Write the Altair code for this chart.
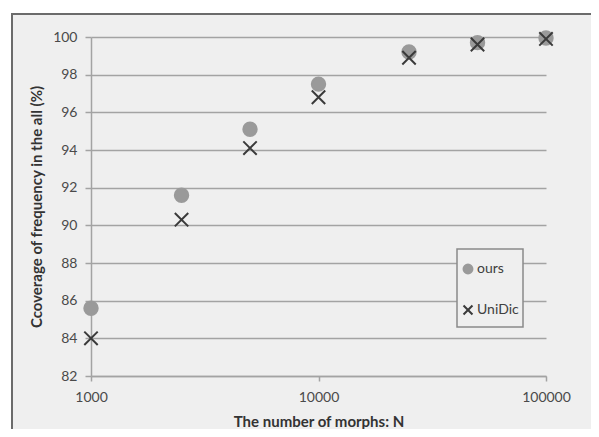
import altair as alt
import pandas as pd

N = [1000, 2500, 5000, 10000, 25000, 50000, 100000]
ours = [85.6, 91.6, 95.1, 97.5, 99.2, 99.7, 99.95]
unidic = [84.0, 90.3, 94.1, 96.8, 98.9, 99.6, 99.9]
series = ["ours", "UniDic"]
x_ticks = [1000, 10000, 100000]
y_ticks = [82, 84, 86, 88, 90, 92, 94, 96, 98, 100]

df = pd.DataFrame({
    "N": N + N,
    "cov": ours + unidic,
    "series": [series[0]] * len(N) + [series[1]] * len(N),
})

cross = "M-1,-1L1,1M-1,1L1,-1"
FONT = "Lato"

one = pd.DataFrame({"f": [0]})
white_strip = alt.Chart(one).mark_rect(fill=None, stroke="white", strokeWidth=12).encode(
    x=alt.value(-86), x2=alt.value(560), y=alt.value(-30), y2=alt.value(460))
border = alt.Chart(one).mark_rect(fill=None, stroke="#6b6b6b", strokeWidth=2).encode(
    x=alt.value(-79), x2=alt.value(540), y=alt.value(-23), y2=alt.value(440))
legend_box = alt.Chart(one).mark_rect(fill="#efefef", stroke="#8a8a8a", strokeWidth=1.5).encode(
    x=alt.value(366), x2=alt.value(432), y=alt.value(212), y2=alt.value(290))

points = alt.Chart(df).mark_point(filled=False, strokeWidth=2, opacity=1, size=180).encode(
    x=alt.X("N:Q",
            scale=alt.Scale(type="log", domain=[1000, 100000], nice=False),
            axis=alt.Axis(values=x_ticks, format="d", title="The number of morphs: N",
                          grid=False, tickSize=5, labelPadding=9, titlePadding=10,
                          labelFlush=False)),
    y=alt.Y("cov:Q",
            scale=alt.Scale(domain=[82, 100], nice=False, zero=False),
            axis=alt.Axis(values=y_ticks, title="Ccoverage of frequency in the all (%)",
                          grid=True, tickSize=6, labelPadding=8, titlePadding=8,
                          labelFlush=False)),
    color=alt.Color("series:N", scale=alt.Scale(domain=series, range=["#9a9a9a", "#3a3a3a"]),
                    title=None,
                    legend=alt.Legend(orient="none", legendX=370, legendY=225, title=None,
                                      padding=0, rowPadding=23, symbolSize=80,
                                      symbolStrokeWidth=2, labelFontSize=14, labelFont=FONT,
                                      labelColor="#404040", labelOffset=2)),
    shape=alt.Shape("series:N", scale=alt.Scale(domain=series, range=["circle", cross]), title=None),
    fill=alt.Fill("series:N", scale=alt.Scale(domain=series, range=["#9a9a9a", "transparent"]), title=None),
)

chart = alt.layer(white_strip, border, legend_box, points).properties(
    width=455, height=339,
    autosize=alt.AutoSizeParams(type="none"),
    padding={"left": 83, "top": 29, "right": 45, "bottom": 53},
    background="#efefef",
).configure_view(stroke=None, fill="#efefef").configure_axis(
    labelFont=FONT, labelFontSize=14, labelColor="#4a4a4a",
    titleFont=FONT, titleFontSize=15, titleFontWeight="bold", titleColor="#333333",
    gridColor="#a3a3a3", gridWidth=1.5, domainColor="#a3a3a3", domainWidth=1.5,
    tickColor="#a3a3a3", tickWidth=1.5,
)

chart.save("out.html", embed_options={"renderer": "svg", "actions": False})
